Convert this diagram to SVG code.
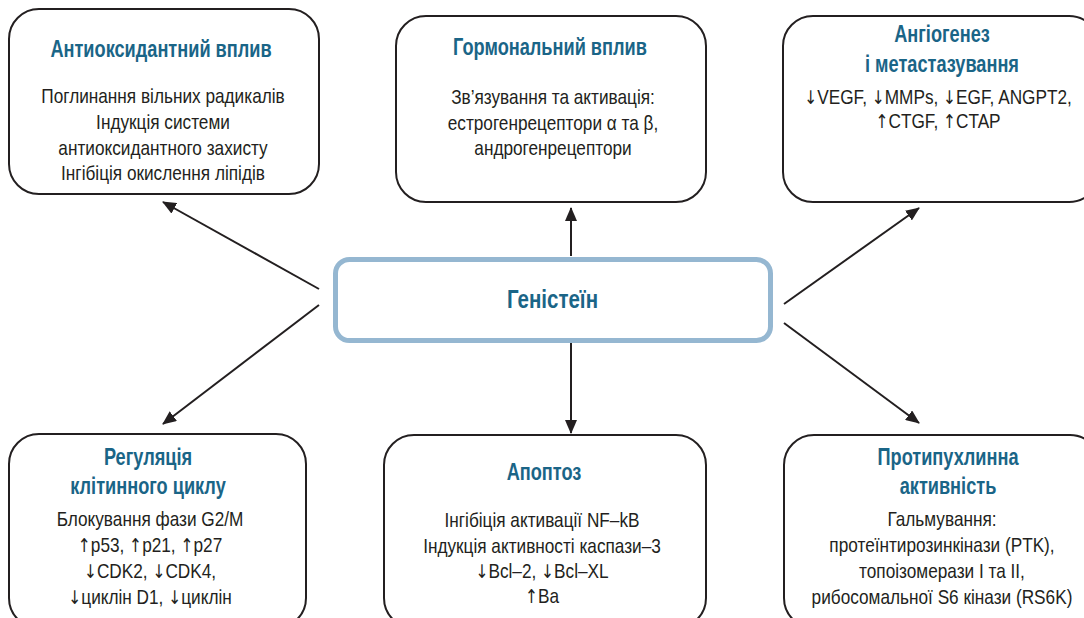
<svg xmlns="http://www.w3.org/2000/svg" width="1084" height="618" viewBox="0 0 1084 618">
<defs>
<marker id="ah" markerUnits="userSpaceOnUse" markerWidth="14" markerHeight="12" viewBox="0 0 14 12" refX="13" refY="6" orient="auto">
<path d="M0,0 L14,6 L0,12 z" fill="#231f20"/>
</marker>
<style>
.box{fill:#fff;stroke:#231f20;stroke-width:2}
.core{fill:#fff;stroke:#95b7d1;stroke-width:5}
.t{font-family:"Liberation Sans",Arial,sans-serif;font-weight:bold;font-size:23px;fill:#1a6587;text-anchor:middle}
.c{font-family:"Liberation Sans",Arial,sans-serif;font-weight:bold;font-size:25px;fill:#1a6587;text-anchor:middle}
.b{font-family:"Liberation Sans",Arial,sans-serif;font-size:21px;fill:#231f20;text-anchor:middle}
.a{font-family:"DejaVu Sans",sans-serif;font-size:19px}
.ln{stroke:#231f20;stroke-width:2;fill:none;marker-end:url(#ah)}
</style>
</defs>
<rect width="1084" height="618" fill="#fff"/>

<g id="connectors">
<line class="ln" x1="319" y1="289" x2="163" y2="202"/>
<line class="ln" x1="319" y1="305" x2="163" y2="424"/>
<line class="ln" x1="571" y1="256" x2="571" y2="208"/>
<line class="ln" x1="571" y1="343" x2="571" y2="433"/>
<line class="ln" x1="784" y1="304" x2="919" y2="208"/>
<line class="ln" x1="784" y1="323" x2="919" y2="423"/>
</g>

<g id="genistein">
<rect class="core" x="335.5" y="259.5" width="435" height="81" rx="14"/>
<g transform="translate(552.5 0) scale(0.82 1)"><text class="c" x="0" y="308">Геністеїн</text></g>
</g>

<g id="antioxidant">
<rect class="box" x="9" y="9" width="310" height="185" rx="30"/>
<g transform="translate(161 0) scale(0.79 1)"><text class="t" x="0" y="57">Антиоксидантний вплив</text></g>
<g transform="translate(163 0) scale(0.82 1)">
<text class="b" x="0" y="103">Поглинання вільних радикалів</text>
<text class="b" x="0" y="129">Індукція системи</text>
<text class="b" x="0" y="155">антиоксидантного захисту</text>
<text class="b" x="0" y="180">Інгібіція окислення ліпідів</text>
</g>
</g>

<g id="hormonal">
<rect class="box" x="396" y="16" width="310" height="186" rx="30"/>
<g transform="translate(550 0) scale(0.79 1)"><text class="t" x="0" y="55">Гормональний вплив</text></g>
<g transform="translate(553 0) scale(0.82 1)">
<text class="b" x="0" y="104">Зв’язування та активація:</text>
<text class="b" x="0" y="130">естрогенрецептори α та β,</text>
<text class="b" x="0" y="155">андрогенрецептори</text>
</g>
</g>

<g id="angiogenesis">
<rect class="box" x="783" y="16" width="316" height="186" rx="30"/>
<g transform="translate(942 0) scale(0.79 1)">
<text class="t" x="0" y="42">Ангіогенез</text>
<text class="t" x="0" y="72">і метастазування</text>
</g>
<g transform="translate(938 0) scale(0.82 1)">
<text class="b" x="0" y="104"><tspan class="a">↓</tspan>VEGF, <tspan class="a">↓</tspan>MMPs, <tspan class="a">↓</tspan>EGF, ANGPT2,</text>
<text class="b" x="0" y="128"><tspan class="a">↑</tspan>CTGF, <tspan class="a">↑</tspan>CTAP</text>
</g>
</g>

<g id="cellcycle">
<rect class="box" x="9" y="434" width="297" height="194" rx="30"/>
<g transform="translate(148 0) scale(0.79 1)">
<text class="t" x="0" y="465">Регуляція</text>
<text class="t" x="0" y="494">клітинного циклу</text>
</g>
<g transform="translate(150 0) scale(0.82 1)">
<text class="b" x="0" y="526">Блокування фази G2/M</text>
<text class="b" x="0" y="552"><tspan class="a">↑</tspan>p53, <tspan class="a">↑</tspan>p21, <tspan class="a">↑</tspan>p27</text>
<text class="b" x="0" y="578"><tspan class="a">↓</tspan>CDK2, <tspan class="a">↓</tspan>CDK4,</text>
<text class="b" x="0" y="604"><tspan class="a">↓</tspan>циклін D1, <tspan class="a">↓</tspan>циклін</text>
</g>
</g>

<g id="apoptosis">
<rect class="box" x="384" y="435" width="322" height="193" rx="30"/>
<g transform="translate(544 0) scale(0.79 1)"><text class="t" x="0" y="480">Апоптоз</text></g>
<g transform="translate(542 0) scale(0.82 1)">
<text class="b" x="0" y="527">Інгібіція активації NF–kB</text>
<text class="b" x="0" y="553">Індукція активності каспази–3</text>
<text class="b" x="0" y="578"><tspan class="a">↓</tspan>Bcl–2, <tspan class="a">↓</tspan>Bcl–XL</text>
<text class="b" x="0" y="603"><tspan class="a">↑</tspan>Ba</text>
</g>
</g>

<g id="antitumor">
<rect class="box" x="784" y="435" width="316" height="193" rx="30"/>
<g transform="translate(948 0) scale(0.79 1)">
<text class="t" x="0" y="465">Протипухлинна</text>
<text class="t" x="0" y="494">активність</text>
</g>
<g transform="translate(942 0) scale(0.82 1)">
<text class="b" x="0" y="526">Гальмування:</text>
<text class="b" x="0" y="552">протеїнтирозинкінази (PTK),</text>
<text class="b" x="0" y="578">топоізомерази I та II,</text>
<text class="b" x="0" y="604">рибосомальної S6 кінази (RS6K)</text>
</g>
</g>
</svg>
